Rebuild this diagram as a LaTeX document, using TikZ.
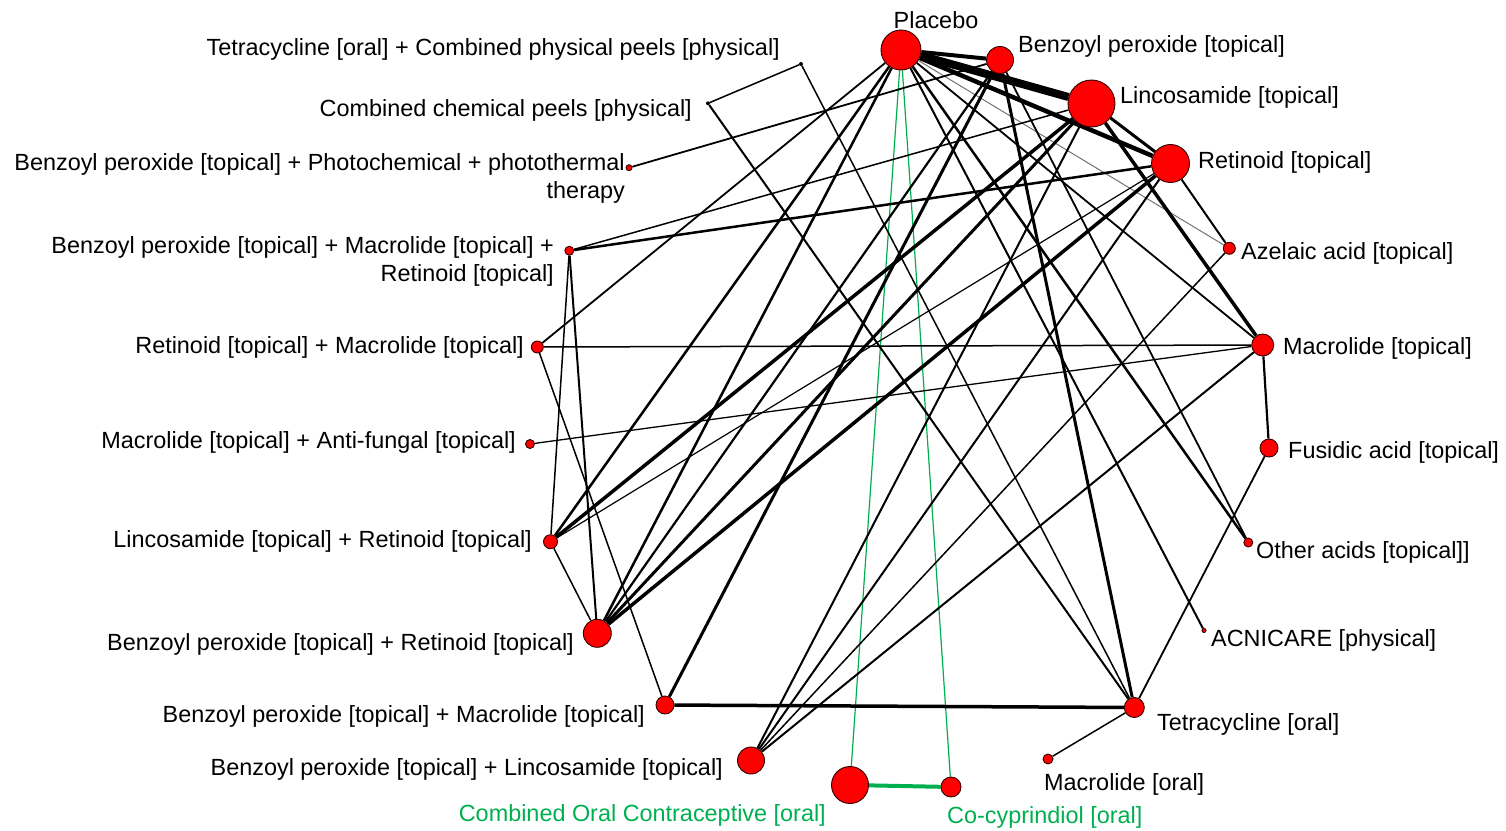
\documentclass[tikz,border=0pt]{standalone}
\usepackage{fontspec}
\setmainfont{Liberation Sans}
\usetikzlibrary{backgrounds}
\definecolor{grn}{RGB}{0,176,80}
\definecolor{nodered}{RGB}{255,0,0}
\begin{document}
\begin{tikzpicture}[x=1bp,y=-1bp,
  nd/.style={circle,fill=nodered,draw=black!80!red,line width=0.9bp,inner sep=0pt,minimum size=#1},
  dotnd/.style={circle,fill=black,inner sep=0pt,minimum size=#1},
  lbl/.style={inner sep=0pt,font=\fontsize{23.5}{28}\selectfont},
  glbl/.style={lbl,text=grn},
  ed/.style={draw=black,line width=#1},
  ged/.style={draw=grn,line width=#1},
]
\useasboundingbox (0,0) rectangle (1506,830);
% network nodes
\node[nd=40bp] (P)   at (901,50) {};
\node[nd=27bp] (BP)  at (1000,60) {};
\node[nd=47bp] (LI)  at (1091.5,103.5) {};
\node[nd=38bp] (RE)  at (1170.5,163.5) {};
\node[nd=12bp] (AZ)  at (1229.3,248.3) {};
\node[nd=22bp] (MT)  at (1262.7,345) {};
\node[nd=18bp] (FU)  at (1269,448) {};
\node[nd=9bp]  (OA)  at (1248.3,542.5) {};
\node[nd=4bp]  (AC)  at (1204,630.5) {};
\node[nd=20bp] (TO)  at (1134.3,707.5) {};
\node[nd=10bp] (MO)  at (1048,759) {};
\node[nd=20bp] (CC)  at (951,787) {};
\node[nd=37bp] (CO)  at (850,785) {};
\node[nd=27bp] (BL)  at (751,760.5) {};
\node[nd=18bp] (BM)  at (665,705) {};
\node[nd=28bp] (BR)  at (597.3,633.3) {};
\node[nd=14bp] (LR)  at (550.5,541.7) {};
\node[nd=9bp]  (MA)  at (530,444) {};
\node[nd=12bp] (RM)  at (537.3,347) {};
\node[nd=9bp]  (BMR) at (569.3,250.7) {};
\node[nd=6bp]  (BPH) at (629,167.7) {};
\node[dotnd=4bp] (CP) at (708,103.3) {};
\node[dotnd=4bp] (TP) at (801,64) {};
% labels
\node[lbl,anchor=center] (lP) at (936,20) {Placebo};
\node[lbl,anchor=west] (lBP) at (1018,46) {Benzoyl peroxide [topical]};
\node[lbl,anchor=west] (lLI) at (1120,97) {Lincosamide [topical]};
\node[lbl,anchor=west] (lRE) at (1198,162) {Retinoid [topical]};
\node[lbl,anchor=west] (lAZ) at (1241,253) {Azelaic acid [topical]};
\node[lbl,anchor=west] (lMT) at (1283,348) {Macrolide [topical]};
\node[lbl,anchor=west] (lFU) at (1288,452) {Fusidic acid [topical]};
\node[lbl,anchor=west] (lOA) at (1256,552) {Other acids [topical]]};
\node[lbl,anchor=west] (lAC) at (1211,640) {ACNICARE [physical]};
\node[lbl,anchor=west] (lTO) at (1157,724) {Tetracycline [oral]};
\node[lbl,anchor=west] (lMO) at (1044,784) {Macrolide [oral]};
\node[glbl,anchor=west] (lCC) at (947,817) {Co-cyprindiol [oral]};
\node[glbl,anchor=east] (lCO) at (826,815) {Combined Oral Contraceptive [oral]};
\node[lbl,anchor=east] (lBL) at (723,769) {Benzoyl peroxide [topical] + Lincosamide [topical]};
\node[lbl,anchor=east] (lBM) at (645,716) {Benzoyl peroxide [topical] + Macrolide [topical]};
\node[lbl,anchor=east] (lBR) at (574,644) {Benzoyl peroxide [topical] + Retinoid [topical]};
\node[lbl,anchor=east] (lLR) at (532,541) {Lincosamide [topical] + Retinoid [topical]};
\node[lbl,anchor=east] (lMA) at (516,442) {Macrolide [topical] + Anti-fungal [topical]};
\node[lbl,anchor=east] (lRM) at (524,347) {Retinoid [topical] + Macrolide [topical]};
\node[lbl,anchor=east,align=right] (lBMR) at (554,261) {Benzoyl peroxide [topical] + Macrolide [topical] +\\Retinoid [topical]};
\node[lbl,anchor=east,align=right] (lBPH) at (625,178) {Benzoyl peroxide [topical] + Photochemical + photothermal\\therapy};
\node[lbl,anchor=east] (lCP) at (692,110) {Combined chemical peels [physical]};
\node[lbl,anchor=east] (lTP) at (780,49) {Tetracycline [oral] + Combined physical peels [physical]};
% connectors
\begin{scope}[on background layer]
\draw[ged=1.2bp] (P) -- (CO);
\draw[ged=1.2bp] (P) -- (CC);
\draw[ged=4bp] (CO) -- (CC);
\draw[ed=4bp] (P) -- (BP);
\draw[ed=8bp] (P) -- (LI);
\draw[ed=4.5bp] (P) -- (RE);
\draw[draw=black!55,line width=1bp] (P) -- (AZ);
\draw[ed=1.8bp] (P) -- (MT);
\draw[ed=2.5bp] (P) -- (OA);
\draw[ed=2bp] (P) -- (AC);
\draw[ed=1.8bp] (P) -- (RM);
\draw[ed=2.5bp] (P) -- (LR);
\draw[ed=2.5bp] (P) -- (BR);
\draw[ed=1.8bp] (BP) -- (BPH);
\draw[ed=3bp] (BP) -- (BM);
\draw[ed=2.2bp] (BP) -- (BR);
\draw[ed=3bp] (BP) -- (TO);
\draw[ed=1.8bp] (BP) -- (OA);
\draw[ed=3bp] (LI) -- (RE);
\draw[ed=3.5bp] (LI) -- (MT);
\draw[ed=2bp] (LI) -- (BL);
\draw[ed=3bp] (LI) -- (BR);
\draw[ed=3.5bp] (LI) -- (LR);
\draw[ed=1.5bp] (LI) -- (BMR);
\draw[ed=2bp] (RE) -- (AZ);
\draw[ed=2bp] (RE) -- (BL);
\draw[ed=3.5bp] (RE) -- (BR);
\draw[ed=1.2bp] (RE) -- (LR);
\draw[ed=2.5bp] (RE) -- (BMR);
\draw[ed=1.5bp] (AZ) -- (BL);
\draw[ed=1.5bp] (MT) -- (RM);
\draw[ed=1.3bp] (MT) -- (MA);
\draw[ed=2bp] (MT) -- (BL);
\draw[ed=2.2bp] (MT) -- (FU);
\draw[ed=1.8bp] (FU) -- (TO);
\draw[ed=3.5bp] (TO) -- (BM);
\draw[ed=1.5bp] (TO) -- (MO);
\draw[ed=2bp] (TO) -- (CP);
\draw[ed=1.5bp] (TO) -- (TP);
\draw[ed=1.5bp] (CP) -- (TP);
\draw[ed=1.5bp] (RM) -- (BM);
\draw[ed=1.5bp] (BMR) -- (LR);
\draw[ed=2bp] (BMR) -- (BR);
\draw[ed=1.5bp] (LR) -- (BR);
\end{scope}
\end{tikzpicture}
\end{document}
